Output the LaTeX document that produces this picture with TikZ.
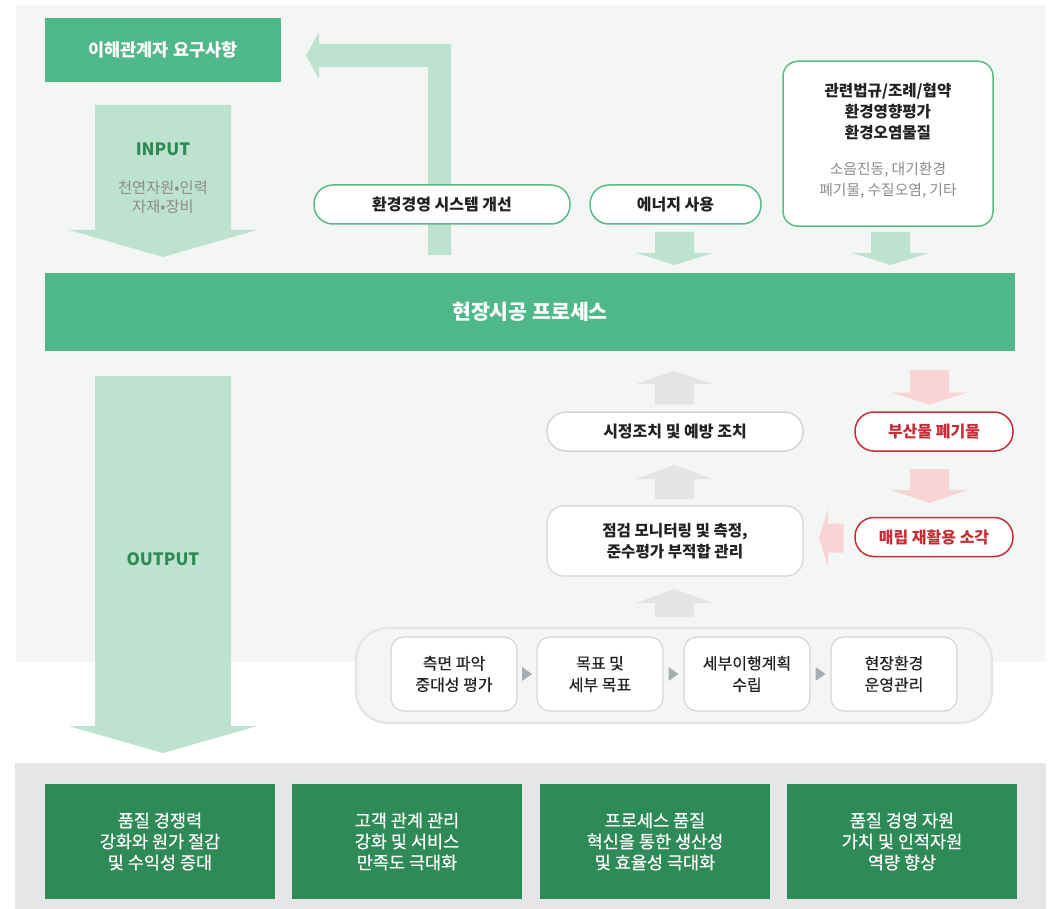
\documentclass[tikz,border=0pt]{standalone}
\usepackage{fontspec}
\setmainfont{Noto Sans CJK KR}
\newfontfamily\medfont{Noto Sans CJK KR}[FakeBold=0.5]
\usetikzlibrary{calc}

\definecolor{panelbg}{HTML}{F4F6F5}
\definecolor{graypanel}{HTML}{E4E6E8}
\definecolor{midgreen}{HTML}{4EB888}
\definecolor{lgreen}{HTML}{BEE2D0}
\definecolor{dgreen}{HTML}{2E8A52}
\definecolor{boxgreen}{HTML}{2E8A56}
\definecolor{pillgreen}{HTML}{5BBA8C}
\definecolor{grayarrow}{HTML}{E2E4E6}
\definecolor{pinkarrow}{HTML}{F9D4D4}
\definecolor{redc}{HTML}{C42E37}
\definecolor{lineg}{HTML}{D3D6D8}
\definecolor{contline}{HTML}{E3E5E6}
\definecolor{greyt}{HTML}{8C8C8C}
\definecolor{trig}{HTML}{A9ADB0}
\definecolor{ink}{HTML}{222222}

% 세로 블록 화살표: 색, 중심 x, 꼬리 y, 머리 시작 y, 끝 y, 몸통 반폭, 머리 반폭
\newcommand{\vblock}[7]{%
  \fill[#1] ({#2-#6},#3) -- ({#2+#6},#3) -- ({#2+#6},#4) -- ({#2+#7},#4)
    -- (#2,#5) -- ({#2-#7},#4) -- ({#2-#6},#4) -- cycle;}

\begin{document}
\begin{tikzpicture}[x=1pt,y=-1pt,
  topbox/.style={fill=midgreen,text=white,inner sep=0,font=\bfseries\fontsize{17.5}{20}\selectfont},
  pill/.style={draw=pillgreen,line width=1.5pt,fill=white,rounded corners=19pt,
    minimum height=39,inner sep=0,text=ink,font=\bfseries\fontsize{16}{20}\selectfont},
  greypill/.style={pill,draw=lineg},
  redpill/.style={pill,draw=redc,text=redc},
  stepbox/.style={draw=lineg,line width=1.2pt,fill=white,rounded corners=13pt,
    minimum width=126,minimum height=74,inner sep=0,align=center,text=ink,
    font=\medfont\fontsize{16}{21.5}\selectfont},
  resultbox/.style={fill=boxgreen,text=white,minimum width=230,minimum height=115,
    inner sep=0,align=center,font=\medfont\fontsize{17.5}{21}\selectfont},
  tri/.style={fill=trig}]

  \useasboundingbox (0,0) rectangle (1054,909);

  % 배경 패널
  \fill[panelbg] (16,5) rectangle (1046,662);
  \fill[graypanel] (15,763) rectangle (1046,909);

  % 이해관계자 요구사항
  \node[topbox,minimum width=236,minimum height=64] (stake) at (163,50) {이해관계자 요구사항};

  % INPUT 화살표
  \vblock{lgreen}{163}{105}{230}{257}{68}{94}
  \node[text=dgreen,font=\bfseries\fontsize{17}{20}\selectfont] (input) at (163,149) {INPUT};
  \node[align=center,text=greyt,font=\fontsize{15.3}{19}\selectfont] (inputsub) at (163,197.5) {천연자원•인력\\자재•장비};

  % 개선 되돌림 화살표
  \fill[lgreen] (428,255) -- (451,255) -- (451,44) -- (319,44) -- (319,32)
    -- (306,55.5) -- (319,79) -- (319,67) -- (428,67) -- cycle;

  % 위쪽 입력 항목
  \node[pill,minimum width=256] (improve) at (442,204.5) {환경경영 시스템 개선};
  \node[pill,minimum width=171] (energy) at (675.5,204.5) {에너지 사용};
  \node[draw=pillgreen,line width=1.5pt,fill=white,rounded corners=15pt,
    minimum width=210,minimum height=165] (law) at (888,143.75) {};
  \node[align=center,text=ink,font=\bfseries\fontsize{15.6}{21}\selectfont] (lawtitle) at (888,112) {관련법규/조례/협약\\환경영향평가\\환경오염물질};
  \node[align=center,text=greyt,font=\fontsize{14.8}{21}\selectfont] (lawsub) at (888,180.5) {소음진동, 대기환경\\폐기물, 수질오염, 기타};

  \vblock{lgreen}{674.5}{232}{253}{265}{19.5}{38.5}
  \vblock{lgreen}{890.5}{232}{253}{265}{19.5}{38.5}

  % 현장시공 프로세스
  \node[topbox,minimum width=970,minimum height=78,font=\bfseries\fontsize{20.5}{24}\selectfont] (process) at (530,312) {현장시공 프로세스};

  % OUTPUT 화살표
  \vblock{lgreen}{163}{376}{726}{753}{68}{94.5}
  \node[text=dgreen,font=\bfseries\fontsize{17}{20}\selectfont] (output) at (163,559) {OUTPUT};

  % 개선 흐름 (회색 화살표)
  \vblock{grayarrow}{674.5}{404.5}{384}{371}{19.5}{38.5}
  \vblock{grayarrow}{674.5}{499}{479}{465}{19.5}{38.5}
  \vblock{grayarrow}{674.5}{617}{603}{589}{19.5}{38.5}
  \node[greypill,minimum width=256] (fix) at (675,431.5) {시정조치 및 예방 조치};
  \node[draw=lineg,line width=1.2pt,fill=white,rounded corners=17pt,minimum width=256,
    minimum height=70,inner sep=0,align=center,text=ink,
    font=\bfseries\fontsize{15.6}{20.5}\selectfont] (check) at (675,541) {점검 모니터링 및 측정,\\준수평가 부적합 관리};

  % 폐기물 흐름 (분홍 화살표)
  \vblock{pinkarrow}{929.5}{370}{392.5}{404.5}{19.5}{38.5}
  \vblock{pinkarrow}{929.5}{469}{490}{503}{19.5}{38.5}
  \node[redpill,minimum width=158] (waste) at (934,431.5) {부산물 폐기물};
  \node[redpill,minimum width=158] (recycle) at (934,537) {매립 재활용 소각};
  \fill[pinkarrow] (843.5,523.5) -- (843.5,552.5) -- (828,552.5) -- (828,567)
    -- (819,538) -- (828,509) -- (828,523.5) -- cycle;

  % 환경관리 단계
  \node[draw=contline,line width=2.2pt,fill=panelbg,rounded corners=32pt,
    minimum width=636,minimum height=95] (steps) at (674,675.5) {};
  \node[stepbox] (s1) at (454,674) {측면 파악\\중대성 평가};
  \node[stepbox] (s2) at (600,674) {목표 및\\세부 목표};
  \node[stepbox] (s3) at (747,674) {세부이행계획\\수립};
  \node[stepbox] (s4) at (894,674) {현장환경\\운영관리};
  \fill[tri] ($(s1.east)!.5!(s2.west)$) ++(-5,-7) -- ++(10,7) -- ++(-10,7) -- cycle;
  \fill[tri] ($(s2.east)!.5!(s3.west)$) ++(-5,-7) -- ++(10,7) -- ++(-10,7) -- cycle;
  \fill[tri] ($(s3.east)!.5!(s4.west)$) ++(-5,-7) -- ++(10,7) -- ++(-10,7) -- cycle;

  % 결과
  \node[resultbox] (r1) at (160,841.5) {품질 경쟁력\\강화와 원가 절감\\및 수익성 증대};
  \node[resultbox] (r2) at (407,841.5) {고객 관계 관리\\강화 및 서비스\\만족도 극대화};
  \node[resultbox] (r3) at (655,841.5) {프로세스 품질\\혁신을 통한 생산성\\및 효율성 극대화};
  \node[resultbox] (r4) at (902,841.5) {품질 경영 자원\\가치 및 인적자원\\역량 향상};

\end{tikzpicture}
\end{document}
